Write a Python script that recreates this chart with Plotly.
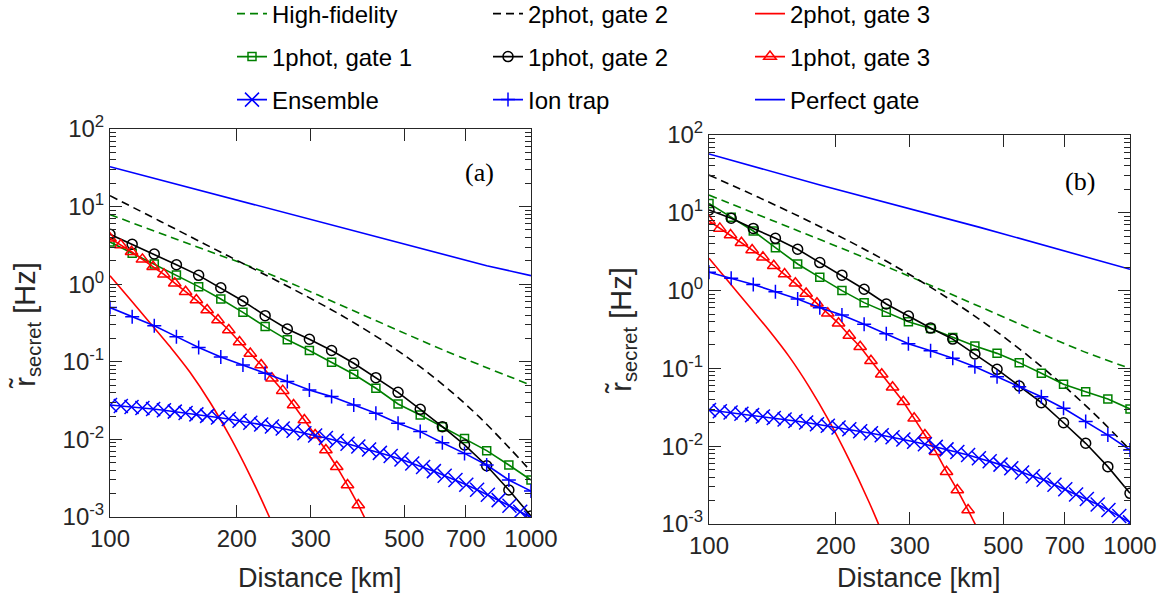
import plotly.graph_objects as go

# ---------------------------------------------------------------- data
# distance grids used for the marked curves (km)
dist20 = [100, 112.9, 127.4, 143.8, 162.4, 183.3, 206.9, 233.6, 263.7, 297.6,
          336.0, 379.3, 428.1, 483.3, 545.6, 615.8, 695.2, 784.8, 885.9, 1000]
dist40 = [100, 106.1, 112.5, 119.4, 126.6, 134.3, 142.5, 151.2, 160.4, 170.1,
          180.5, 191.5, 203.1, 215.4, 228.6, 242.5, 257.2, 272.9, 289.5, 307.1,
          325.7, 345.6, 366.6, 388.9, 412.5, 437.6, 464.2, 492.5, 522.4, 554.2,
          587.9, 623.7, 661.6, 701.9, 744.6, 789.8, 837.9, 888.8, 942.9, 1000]
# distances used for the unmarked two-photon curves (km)
dist_2p = [100, 111.6, 124.5, 138.8, 154.9, 172.8, 192.8, 215.0, 239.9, 253.3, 267.7]
dist_2p2 = [100, 131.5, 172.8, 227.2, 298.7, 371.6, 462.6, 544.9, 642, 756.6, 891.7, 1000]
dist_2p2b = [100, 131.5, 172.8, 227.2, 298.7, 392.5, 488.5, 607.9, 716.4, 844.3, 1000]

# ---- panel (a)
a_hf_d = [100, 160, 231.5, 400, 619, 1000]
a_hf_r = [7.9, 3.06, 1.45, 0.40, 0.142, 0.05]

a_2p2_r = [13.82, 6.49, 3.04, 1.43, 0.662, 0.342, 0.1626, 0.0867, 0.0426, 0.01905, 0.0076, 0.00386]

a_2p3_r = [1.287, 0.638, 0.317, 0.157, 0.0733, 0.0301, 0.01083, 0.00344, 0.00096, 0.000485]

a_1p1_r = [3.5, 2.5, 1.82, 1.31, 0.93, 0.645, 0.434, 0.284, 0.192, 0.140,
           0.0986, 0.069, 0.0456, 0.0286, 0.0206, 0.0146, 0.0103, 0.00716, 0.00468, 0.0030]
a_1p2_r = [4.4, 3.27, 2.45, 1.78, 1.30, 0.90, 0.608, 0.393, 0.265, 0.195,
           0.140, 0.0957, 0.0624, 0.0404, 0.0244, 0.0146, 0.00848, 0.00458, 0.00223, 0.00103]
a_1p3_r = [3.9, 3.2, 2.62, 2.09, 1.68, 1.34, 1.03, 0.80, 0.625, 0.466,
           0.346, 0.257, 0.18, 0.128, 0.091, 0.0612, 0.0425, 0.0277, 0.0178, 0.0114,
           0.0073, 0.00445, 0.00258, 0.00143, 0.00075]
a_ens_r = [0.0277, 0.0270, 0.0262, 0.0254, 0.0246, 0.0237, 0.0228, 0.0219, 0.0210, 0.0201,
           0.0192, 0.0183, 0.0174, 0.0164, 0.0156, 0.0147, 0.0138, 0.0129, 0.0120, 0.0112,
           0.0104, 0.0096, 0.0088, 0.0081, 0.0074, 0.0067, 0.0061, 0.0055, 0.0049, 0.0044,
           0.0039, 0.0034, 0.0030, 0.0026, 0.00225, 0.00193, 0.00165, 0.0014, 0.00117, 0.00098]
a_ion_r = [0.5, 0.382, 0.292, 0.211, 0.153, 0.115, 0.091, 0.0713, 0.0556, 0.0434,
           0.0356, 0.0277, 0.0217, 0.0161, 0.0126, 0.00906, 0.0066, 0.00467, 0.0030, 0.00216]

a_pg_d = [100, 152, 345, 785, 1000]
a_pg_r = [32.7, 18, 5.6, 1.73, 1.29]

# ---- panel (b)
b_hf_d = [100, 160, 264, 450, 761, 1000]
b_hf_r = [16.9, 6.1, 2.03, 0.59, 0.172, 0.1]

b_2p2_r = [30.6, 15.68, 7.80, 3.70, 1.625, 0.645, 0.282, 0.112, 0.0521, 0.0228, 0.00896]

b_2p3_r = [2.60, 1.28, 0.628, 0.309, 0.1426, 0.0583, 0.0211, 0.00676, 0.00192, 0.00097, 0.00048]

b_1p1_r = [13.2, 8.75, 5.83, 3.56, 2.2, 1.48, 1.0, 0.70, 0.526, 0.398,
           0.325, 0.25, 0.194, 0.156, 0.1186, 0.0865, 0.0625, 0.0502, 0.0405, 0.0301]
b_1p2_r = [10.9, 8.5, 6.3, 4.7, 3.4, 2.29, 1.58, 1.04, 0.673, 0.472,
           0.33, 0.238, 0.153, 0.0973, 0.0594, 0.0362, 0.020, 0.0109, 0.00546, 0.00248]
b_1p3_r = [7.85, 6.3, 5.19, 4.13, 3.33, 2.68, 2.09, 1.63, 1.24, 0.92,
           0.686, 0.51, 0.38, 0.265, 0.19, 0.1256, 0.084, 0.0571, 0.0373, 0.0228,
           0.0139, 0.0085, 0.0047, 0.00274, 0.00151, 0.00080]
b_ens_r = [0.0292, 0.0281, 0.0271, 0.0261, 0.0251, 0.0241, 0.0231, 0.0221, 0.0211, 0.0202,
           0.0192, 0.0183, 0.0174, 0.0165, 0.0156, 0.0147, 0.0138, 0.0130, 0.0122, 0.0114,
           0.0106, 0.0098, 0.0091, 0.0084, 0.0077, 0.0070, 0.0064, 0.0058, 0.0052, 0.0046,
           0.0041, 0.0037, 0.0032, 0.0028, 0.0024, 0.0021, 0.00178, 0.00151, 0.00127, 0.00105]
b_ion_r = [1.72, 1.44, 1.2, 0.968, 0.78, 0.603, 0.485, 0.369, 0.278, 0.207,
           0.169, 0.135, 0.105, 0.0783, 0.0582, 0.0433, 0.0307, 0.0207, 0.0139, 0.00894]

b_pg_d = [100, 183.5, 440, 1000]
b_pg_r = [57, 22.8, 6.5, 1.88]

# axis ticks
x_ticks = [100, 200, 300, 500, 700, 1000]
x_tick_text = ["100", "200", "300", "500", "700", "1000"]
y_ticks = [1e-3, 1e-2, 1e-1, 1e0, 1e1, 1e2]
y_tick_text = ["10<sup>-3</sup>", "10<sup>-2</sup>", "10<sup>-1</sup>",
               "10<sup>0</sup>", "10<sup>1</sup>", "10<sup>2</sup>"]
y_minor = [m * 10.0 ** e for e in range(-3, 2) for m in range(2, 10)]

# ---------------------------------------------------------------- styling
FONT = "Liberation Sans, Arial, Helvetica, sans-serif"
SERIF = "Liberation Serif, Times New Roman, serif"
AXC = "#262626"
GREEN = "#008000"
BLACK = "#000000"
RED = "#ff0000"
BLUE = "#0000ff"
LW = 1.6
DASH = "8px,5px"

# name, colour, dash, marker symbol, marker size, spline
series = [
    ("High-fidelity", GREEN, DASH, None, 0, True),
    ("2phot, gate 2", BLACK, DASH, None, 0, True),
    ("2phot, gate 3", RED, "solid", None, 0, True),
    ("1phot, gate 1", GREEN, "solid", "square-open", 8, False),
    ("1phot, gate 2", BLACK, "solid", "circle-open", 10, False),
    ("1phot, gate 3", RED, "solid", "triangle-up-open", 11, False),
    ("Ensemble", BLUE, "solid", "x-thin-open", 14, False),
    ("Ion trap", BLUE, "solid", "cross-thin-open", 10, False),
    ("Perfect gate", BLUE, "solid", None, 0, False),
]

panel_data = [
    [(a_hf_d, a_hf_r), (dist_2p2, a_2p2_r), (dist_2p[:len(a_2p3_r)], a_2p3_r),
     (dist20, a_1p1_r), (dist20, a_1p2_r), (dist40[:len(a_1p3_r)], a_1p3_r),
     (dist40, a_ens_r), (dist20, a_ion_r), (a_pg_d, a_pg_r)],
    [(b_hf_d, b_hf_r), (dist_2p2b, b_2p2_r), (dist_2p, b_2p3_r),
     (dist20, b_1p1_r), (dist20, b_1p2_r), (dist40[:len(b_1p3_r)], b_1p3_r),
     (dist40, b_ens_r), (dist20, b_ion_r), (b_pg_d, b_pg_r)],
]

fig = go.Figure()

for p, data in enumerate(panel_data):
    xa = "x" if p == 0 else "x2"
    ya = "y" if p == 0 else "y2"
    for i, ((name, color, dash, sym, msize, smooth), (xd, yd)) in enumerate(zip(series, data)):
        lg = "legend" if i == 0 else f"legend{i + 1}"
        kw = dict(
            x=xd, y=yd, name=name, xaxis=xa, yaxis=ya,
            line=dict(color=color, width=LW, dash=dash,
                      shape="spline" if smooth else "linear"),
            showlegend=(p == 0), legend=lg,
        )
        if sym:
            kw["mode"] = "lines+markers"
            kw["marker"] = dict(symbol=sym, size=msize, color=color,
                                line=dict(color=color, width=1.5))
        else:
            kw["mode"] = "lines"
        fig.add_trace(go.Scatter(**kw))

W, H = 1176, 595


def xcfg(x0, x1, anchor):
    return dict(
        type="log", range=[2, 3], domain=[x0 / W, x1 / W], anchor=anchor,
        tickmode="array", tickvals=x_ticks, ticktext=x_tick_text,
        ticks="inside", ticklen=12, tickwidth=1, tickcolor=AXC,
        showline=True, linecolor=AXC, linewidth=1, mirror="allticks",
        showgrid=False, zeroline=False,
        tickfont=dict(size=24, color=AXC, family=FONT),
    )


def ycfg(top, bottom, anchor):
    return dict(
        type="log", range=[-3, 2], domain=[(H - bottom) / H, (H - top) / H], anchor=anchor,
        tickmode="array", tickvals=y_ticks, ticktext=y_tick_text,
        ticks="inside", ticklen=12, tickwidth=1, tickcolor=AXC,
        minor=dict(tickmode="array", tickvals=y_minor, ticks="inside",
                   ticklen=6, tickwidth=1, tickcolor=AXC, showgrid=False),
        showline=True, linecolor=AXC, linewidth=1, mirror="allticks",
        showgrid=False, zeroline=False,
        tickfont=dict(size=24, color=AXC, family=FONT),
    )


layout = dict(
    width=W, height=H,
    margin=dict(l=0, r=0, t=0, b=0, autoexpand=False),
    paper_bgcolor="white", plot_bgcolor="white",
    font=dict(family=FONT, color=AXC),
    xaxis=xcfg(110, 531, "y"),
    yaxis=ycfg(129, 517, "x"),
    xaxis2=xcfg(709, 1130, "y2"),
    yaxis2=ycfg(135, 524, "x2"),
)

# one legend per entry, laid out as a 3 x 3 grid above the panels
col_x = [232, 488, 750]
row_y = [14, 57, 100]
for i in range(len(series)):
    key = "legend" if i == 0 else f"legend{i + 1}"
    layout[key] = dict(
        x=col_x[i % 3] / W, y=1 - row_y[i // 3] / H,
        xref="paper", yref="paper",
        xanchor="left", yanchor="middle",
        bgcolor="rgba(0,0,0,0)", borderwidth=0,
        font=dict(size=24, family=FONT, color="black"),
    )

fig.update_layout(**layout)

annotations = [
    dict(text="Distance [km]", x=320 / W, y=1 - 578 / H),
    dict(text="Distance [km]", x=919 / W, y=1 - 578 / H),
]
for a in annotations:
    a.update(xref="paper", yref="paper", showarrow=False,
             font=dict(size=27, family=FONT, color=AXC),
             xanchor="center", yanchor="middle")

ytitle = "r\u0303<sub>secret</sub> [Hz]"
for xc, yc in [(27, 326), (623, 331)]:
    annotations.append(dict(
        text=ytitle, x=xc / W, y=1 - yc / H, xref="paper", yref="paper",
        showarrow=False, textangle=-90, xanchor="center", yanchor="middle",
        font=dict(size=29, family=FONT, color=AXC)))

for txt, xc, yc in [("(a)", 479, 172), ("(b)", 1080, 181)]:
    annotations.append(dict(
        text=txt, x=xc / W, y=1 - yc / H, xref="paper", yref="paper",
        showarrow=False, xanchor="center", yanchor="middle",
        font=dict(size=26, family=SERIF, color="black")))

fig.update_layout(annotations=annotations)

fig.write_html("out.html")
